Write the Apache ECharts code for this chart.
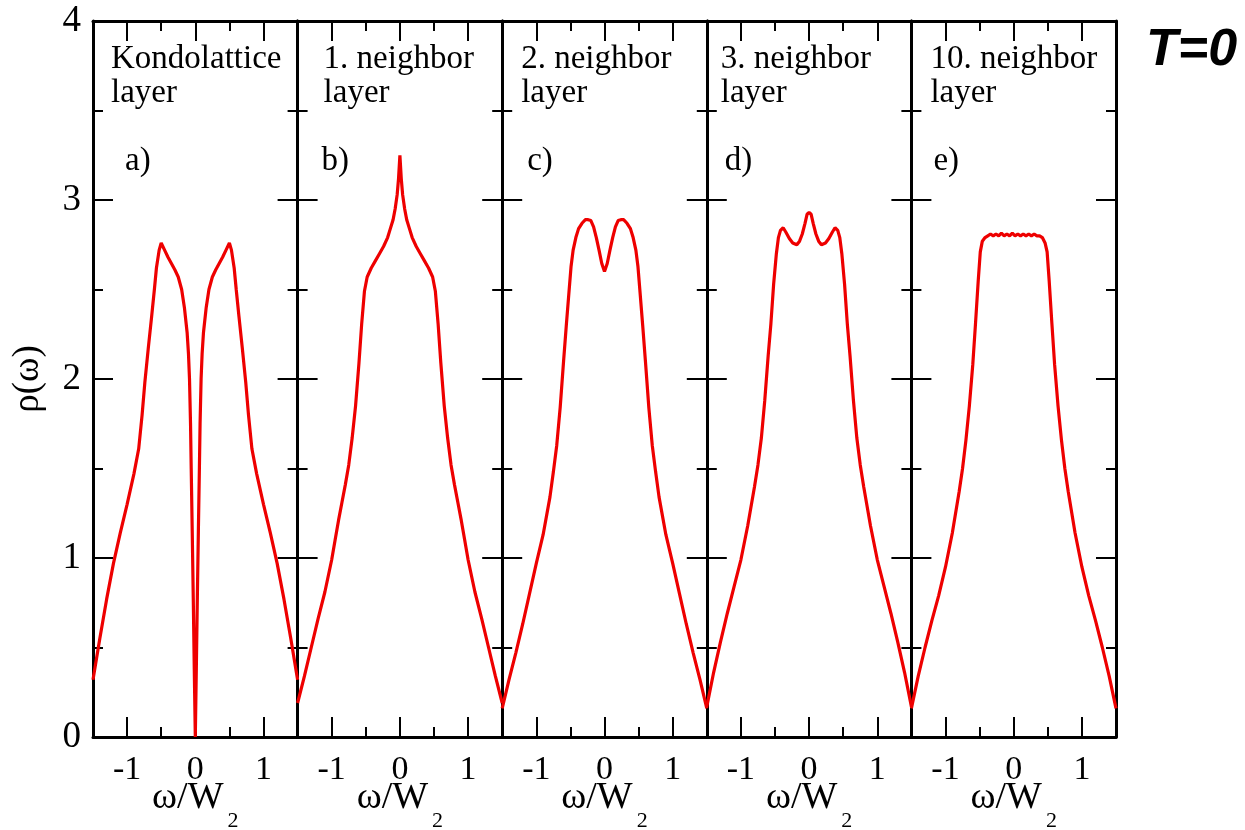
<!DOCTYPE html>
<html>
<head>
<meta charset="utf-8">
<script src="https://cdn.jsdelivr.net/npm/echarts@6/dist/echarts.min.js"></script>
<style>
html,body{margin:0;padding:0;background:#fff;}
#chart{width:1245px;height:830px;}
</style>
</head>
<body>
<div id="chart"></div>
<script>
// ---------------- DATA ----------------
const panelTitles = ['Kondolattice\nlayer', '1. neighbor\nlayer', '2. neighbor\nlayer', '3. neighbor\nlayer', '10. neighbor\nlayer'];
const panelLetters = ['a)', 'b)', 'c)', 'd)', 'e)'];
const xTickLabels = [-1, 0, 1];
const xMinorTicks = [-0.5, 0.5];
const yTickLabels = [0, 1, 2, 3, 4];
const xAxisName = 'ω/W';
const xAxisSub = '2';
const yAxisName = 'ρ(ω)';
const cornerLabel = 'T=0';

// panel a) Kondolattice layer
const omegaA = [-1.5,-1.4,-1.3,-1.2,-1.1,-1.0,-0.9,-0.83,-0.78,-0.74,-0.69,-0.64,-0.6,-0.57,-0.53,-0.5,-0.45,-0.4,-0.35,-0.3,-0.25,-0.2,-0.16,-0.12,-0.1,-0.085,-0.07,-0.06,-0.045,-0.03,-0.015,0,
  0.015,0.03,0.045,0.06,0.07,0.085,0.1,0.12,0.16,0.2,0.25,0.3,0.35,0.4,0.45,0.5,0.53,0.57,0.6,0.64,0.69,0.74,0.78,0.83,0.9,1.0,1.1,1.2,1.3,1.4,1.5];
const rhoA = [0.32,0.55,0.77,0.97,1.14,1.30,1.47,1.61,1.80,1.98,2.17,2.35,2.50,2.62,2.72,2.76,2.72,2.68,2.645,2.61,2.57,2.50,2.40,2.26,2.14,2.00,1.75,1.50,1.15,0.78,0.38,0,
  0.38,0.78,1.15,1.50,1.75,2.00,2.14,2.26,2.40,2.50,2.57,2.61,2.645,2.68,2.72,2.76,2.72,2.62,2.50,2.35,2.17,1.98,1.80,1.61,1.47,1.30,1.14,0.97,0.77,0.55,0.32];

// panel b) 1. neighbor layer
const omegaB = [-1.5,-1.4,-1.3,-1.2,-1.1,-1.0,-0.95,-0.9,-0.85,-0.8,-0.75,-0.7,-0.65,-0.6,-0.56,-0.52,-0.48,-0.42,-0.36,-0.3,-0.24,-0.18,-0.14,-0.1,-0.07,-0.04,-0.02,0,
  0.02,0.04,0.07,0.1,0.14,0.18,0.24,0.3,0.36,0.42,0.48,0.52,0.56,0.6,0.65,0.7,0.75,0.8,0.85,0.9,0.95,1.0,1.1,1.2,1.3,1.4,1.5];
const rhoB = [0.19,0.34,0.50,0.66,0.81,0.99,1.10,1.21,1.31,1.41,1.52,1.67,1.85,2.09,2.31,2.49,2.57,2.62,2.66,2.70,2.74,2.79,2.84,2.89,2.95,3.03,3.12,3.25,
  3.12,3.03,2.95,2.89,2.84,2.79,2.74,2.70,2.66,2.62,2.57,2.49,2.31,2.09,1.85,1.67,1.52,1.41,1.31,1.21,1.10,0.99,0.81,0.66,0.50,0.34,0.19];

// panel c) 2. neighbor layer
const omegaC = [-1.5,-1.4,-1.3,-1.2,-1.1,-1.0,-0.9,-0.8,-0.75,-0.7,-0.65,-0.6,-0.56,-0.52,-0.49,-0.46,-0.42,-0.38,-0.33,-0.28,-0.24,-0.2,-0.16,-0.12,-0.08,-0.04,0,
  0.04,0.08,0.12,0.16,0.2,0.24,0.28,0.33,0.38,0.42,0.46,0.49,0.52,0.56,0.6,0.65,0.7,0.75,0.8,0.9,1.0,1.1,1.2,1.3,1.4,1.5];
const rhoC = [0.16,0.32,0.47,0.63,0.80,0.97,1.13,1.34,1.48,1.63,1.84,2.10,2.30,2.49,2.63,2.72,2.79,2.84,2.87,2.89,2.89,2.885,2.85,2.79,2.72,2.645,2.60,
  2.645,2.72,2.79,2.85,2.885,2.89,2.89,2.87,2.84,2.79,2.72,2.63,2.49,2.30,2.10,1.84,1.63,1.48,1.34,1.13,0.97,0.80,0.63,0.47,0.32,0.16];

// panel d) 3. neighbor layer
const omegaD = [-1.5,-1.4,-1.3,-1.2,-1.1,-1.0,-0.9,-0.8,-0.75,-0.7,-0.65,-0.6,-0.56,-0.52,-0.48,-0.45,-0.42,-0.38,-0.34,-0.29,-0.24,-0.18,-0.14,-0.1,-0.06,-0.03,0,
  0.03,0.06,0.1,0.14,0.18,0.24,0.29,0.34,0.38,0.42,0.45,0.48,0.52,0.56,0.6,0.65,0.7,0.75,0.8,0.9,1.0,1.1,1.2,1.3,1.4,1.5];
const rhoD = [0.17,0.36,0.53,0.69,0.84,0.99,1.18,1.40,1.52,1.67,1.88,2.13,2.31,2.53,2.70,2.79,2.83,2.845,2.82,2.785,2.76,2.75,2.77,2.81,2.87,2.92,2.93,
  2.92,2.87,2.81,2.77,2.75,2.76,2.785,2.82,2.845,2.83,2.79,2.70,2.53,2.31,2.13,1.88,1.67,1.52,1.40,1.18,0.99,0.84,0.69,0.53,0.36,0.17];

// panel e) 10. neighbor layer
const omegaE = [-1.5,-1.4,-1.3,-1.2,-1.1,-1.0,-0.9,-0.8,-0.75,-0.7,-0.65,-0.6,-0.56,-0.52,-0.49,-0.46,-0.42,-0.38,-0.34,-0.3,-0.26,-0.22,-0.18,-0.14,-0.1,-0.06,-0.02,
  0.02,0.06,0.1,0.14,0.18,0.22,0.26,0.3,0.34,0.38,0.42,0.46,0.49,0.52,0.56,0.6,0.65,0.7,0.75,0.8,0.9,1.0,1.1,1.2,1.3,1.4,1.5];
const rhoE = [0.16,0.34,0.50,0.65,0.79,0.95,1.14,1.37,1.50,1.66,1.85,2.08,2.31,2.55,2.71,2.77,2.79,2.80,2.81,2.80,2.81,2.80,2.815,2.80,2.81,2.80,2.815,
  2.80,2.81,2.80,2.81,2.80,2.81,2.80,2.81,2.80,2.80,2.79,2.76,2.71,2.55,2.31,2.08,1.85,1.66,1.50,1.37,1.14,0.95,0.79,0.65,0.50,0.34,0.16];

const panelOmegas = [omegaA, omegaB, omegaC, omegaD, omegaE];
const panelRhos = [rhoA, rhoB, rhoC, rhoD, rhoE];

// ---------------- LAYOUT ----------------
const plotLeft = 93, plotRight = 1116, plotTop = 21, plotBottom = 737;
const nPanels = 5;
const panelW = (plotRight - plotLeft) / nPanels;
const titleOffsets = [18, 26, 19, 14, 19];
const letterOffsets = [32, 24, 25, 18, 22];
const serif = "'Liberation Serif', 'Times New Roman', serif";
const RED = '#ee0000';
const BLACK = '#000';

const grids = [], xAxes = [], yAxes = [], series = [], graphics = [];

for (let i = 0; i < nPanels; i++) {
  const left = plotLeft + i * panelW;
  grids.push({ left: left, top: plotTop, width: panelW, height: plotBottom - plotTop, show: false,
               containLabel: false, outerBoundsMode: 'none' });

  const baseX = {
    type: 'value', gridIndex: i, min: -1.5, max: 1.5, interval: 0.5,
    splitLine: { show: false },
    axisLine: { show: true, onZero: false, lineStyle: { color: BLACK, width: 3 } },
    axisTick: { show: true, inside: true, length: 20, customValues: xTickLabels, lineStyle: { color: BLACK, width: 2 } },
    axisLabel: { show: false }
  };
  // bottom major
  xAxes.push(Object.assign({}, baseX, {
    position: 'bottom',
    axisLabel: { show: true, customValues: xTickLabels, fontFamily: serif, fontSize: 34, color: BLACK, margin: 16 },
    name: '{w|' + xAxisName + '}{s|' + xAxisSub + '}',
    nameLocation: 'middle', nameGap: 27, nameMoveOverlap: false,
    nameTextStyle: {
      color: BLACK,
      rich: {
        w: { fontFamily: serif, fontSize: 38, color: BLACK },
        s: { fontFamily: serif, fontSize: 22, color: BLACK, padding: [46, 0, 0, 4] }
      }
    }
  }));
  // bottom minor
  xAxes.push(Object.assign({}, baseX, {
    position: 'bottom',
    axisLine: { show: false, onZero: false },
    axisTick: { show: true, inside: true, length: 10, customValues: xMinorTicks, lineStyle: { color: BLACK, width: 2 } }
  }));
  // top major
  xAxes.push(Object.assign({}, baseX, { position: 'top' }));
  // top minor
  xAxes.push(Object.assign({}, baseX, {
    position: 'top',
    axisLine: { show: false, onZero: false },
    axisTick: { show: true, inside: true, length: 10, customValues: xMinorTicks, lineStyle: { color: BLACK, width: 2 } }
  }));

  const baseY = {
    type: 'value', gridIndex: i, min: 0, max: 4, interval: 1,
    splitLine: { show: false },
    axisLine: { show: true, onZero: false, lineStyle: { color: BLACK, width: 3 } },
    axisTick: { show: true, inside: true, length: 20, lineStyle: { color: BLACK, width: 2 } },
    minorTick: { show: true, splitNumber: 2, length: 10, lineStyle: { color: BLACK, width: 2 } },
    minorSplitLine: { show: false },
    axisLabel: { show: false }
  };
  const leftY = Object.assign({}, baseY, { position: 'left' });
  if (i === 0) {
    leftY.axisLabel = { show: true, fontFamily: serif, fontSize: 37, color: BLACK, margin: 12 };
    leftY.name = yAxisName;
    leftY.nameLocation = 'middle';
    leftY.nameGap = 46;
    leftY.nameMoveOverlap = false;
    leftY.nameRotate = 90;
    leftY.nameTextStyle = { fontFamily: serif, fontSize: 37, color: BLACK };
  }
  yAxes.push(leftY);
  yAxes.push(Object.assign({}, baseY, { position: 'right' }));

  const data = panelOmegas[i].map((w, k) => [w, panelRhos[i][k]]);
  series.push({
    type: 'line', xAxisIndex: 4 * i, yAxisIndex: 2 * i,
    data: data, showSymbol: false, symbol: 'none', smooth: false, clip: true,
    lineStyle: { color: RED, width: 3.2 }, z: 1
  });

  graphics.push({
    type: 'text', left: left + titleOffsets[i], top: 42, z: 10,
    style: { text: panelTitles[i], font: '33px ' + serif, fill: BLACK, lineHeight: 34 }
  });
  graphics.push({
    type: 'text', left: left + letterOffsets[i], top: 145, z: 10,
    style: { text: panelLetters[i], font: '33px ' + serif, fill: BLACK }
  });
}

graphics.push({
  type: 'text', left: 1146, top: 25, z: 10,
  style: { text: cornerLabel, font: 'italic bold 52px "Liberation Sans", Arial, sans-serif', fill: BLACK }
});

const chart = echarts.init(document.getElementById('chart'), null, { renderer: 'canvas' });
chart.setOption({
  animation: false,
  backgroundColor: '#fff',
  grid: grids,
  xAxis: xAxes,
  yAxis: yAxes,
  series: series,
  graphic: graphics
});
</script>
</body>
</html>
